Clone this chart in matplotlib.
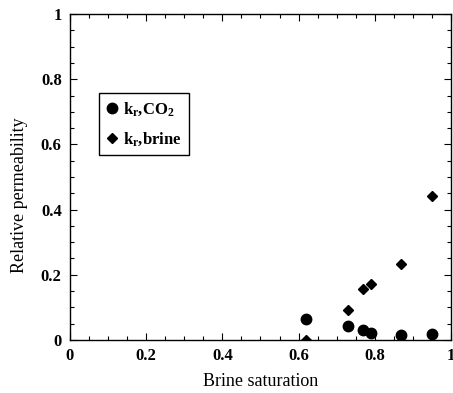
import matplotlib
matplotlib.use("Agg")
import matplotlib.pyplot as plt
from matplotlib.ticker import MultipleLocator

# Datos
sat_co2 = [0.62, 0.73, 0.77, 0.79, 0.87, 0.95]
kr_co2 = [0.063, 0.042, 0.030, 0.022, 0.016, 0.019]

sat_brine = [0.62, 0.73, 0.77, 0.79, 0.87, 0.95]
kr_brine = [0.0, 0.093, 0.156, 0.173, 0.234, 0.443]

plt.rcParams['font.family'] = ['Liberation Serif', 'DejaVu Serif']
plt.rcParams['mathtext.fontset'] = 'custom'
plt.rcParams['mathtext.rm'] = 'Liberation Serif:bold'
plt.rcParams['mathtext.bf'] = 'Liberation Serif:bold'
plt.rcParams['mathtext.it'] = 'Liberation Serif:bold'

fig = plt.figure(figsize=(4.53, 3.93), dpi=100)
ax = fig.add_axes([0.1545, 0.135, 0.841, 0.829])

ax.plot(sat_co2, kr_co2, 'o', color='black', markersize=7.5, label=r'$\mathrm{k_r{,}CO_2}$')
ax.plot(sat_brine, kr_brine, 'D', color='black', markersize=5, label=r'$\mathrm{k_r{,}brine}$')

ax.set_xlim(0, 1)
ax.set_ylim(0, 1)
ax.xaxis.set_major_locator(MultipleLocator(0.2))
ax.xaxis.set_minor_locator(MultipleLocator(0.05))
ax.yaxis.set_major_locator(MultipleLocator(0.2))
ax.yaxis.set_minor_locator(MultipleLocator(0.05))
ax.xaxis.set_major_formatter(lambda v, p: '{:g}'.format(round(v, 2)))
ax.yaxis.set_major_formatter(lambda v, p: '{:g}'.format(round(v, 2)))

ax.tick_params(which='both', direction='in', top=True, right=True, width=0.8)
ax.tick_params(which='major', length=5, labelsize=12, pad=6)
ax.tick_params(which='minor', length=3)
for lab in ax.get_xticklabels() + ax.get_yticklabels():
    lab.set_fontweight('bold')
for s in ax.spines.values():
    s.set_linewidth(1.0)

ax.set_xlabel("Brine saturation", fontsize=13, labelpad=6)
ax.set_ylabel("Relative permeability", fontsize=13)
ax.yaxis.set_label_coords(-0.11, 0.445)

leg = ax.legend(loc='upper left', bbox_to_anchor=(0.075, 0.758), borderaxespad=0,
                fancybox=False, framealpha=1, edgecolor='black', fontsize=12,
                handletextpad=0.3, handlelength=0.7, borderpad=0.45, labelspacing=0.7)
leg.get_frame().set_linewidth(1.0)

plt.savefig("out.png", dpi=100)
